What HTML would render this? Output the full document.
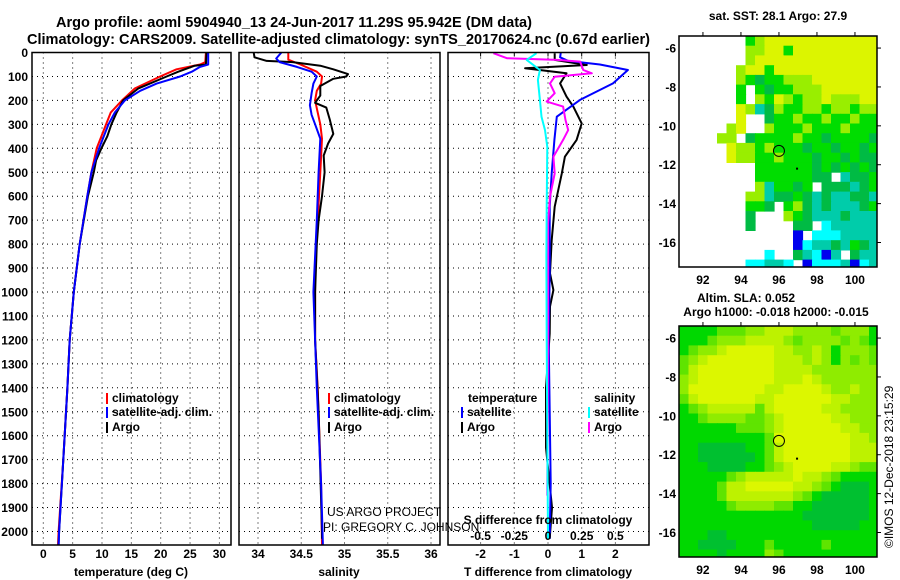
<!DOCTYPE html>
<html><head><meta charset="utf-8">
<style>
html,body{margin:0;padding:0;background:#fff;}
svg{display:block;font-family:"Liberation Sans",sans-serif;}
.t{font-weight:bold;font-size:12px;fill:#000;}
</style></head>
<body>
<svg id="fig" width="900" height="580" viewBox="0 0 900 580" xmlns="http://www.w3.org/2000/svg">
<text x="56" y="27" font-size="15" font-weight="bold" textLength="476" lengthAdjust="spacingAndGlyphs">Argo profile: aoml 5904940_13 24-Jun-2017 11.29S 95.942E (DM data)</text>
<text x="27" y="44" font-size="15" font-weight="bold" textLength="623" lengthAdjust="spacingAndGlyphs">Climatology: CARS2009. Satellite-adjusted climatology: synTS_20170624.nc (0.67d earlier)</text>
<g id="g"></g>
</svg>
<script>
// ---- profile data (depth in m) ----
const tClimD=[0,40,50,70,100,150,200,250,300,400,500,600,800,1000,1200,1400,1700,2000,2056];
const tClimV=[27.7,27.6,26.7,22.7,19.9,15.6,13.4,11.5,10.7,9.1,8.2,7.5,6.2,5.2,4.5,4.1,3.4,2.6,2.5];
const tSatD=[0,50,60,80,100,130,160,200,250,300,400,500,600,800,1000,1200,1400,1700,2000,2056];
const tSatV=[28.1,28.1,26.7,25.3,23.3,19.3,16.5,13.9,12.2,11.1,9.5,8.2,7.5,6.2,5.2,4.5,4.1,3.4,2.7,2.6];
const tArgoD=[0,50,55,80,100,150,200,250,300,350,400,450,500,600,800,1000,1200,1400,1700,2000,2056];
const tArgoV=[27.8,27.7,25.8,23.0,21.0,16.2,13.6,12.5,11.6,10.9,9.9,9.0,8.6,7.6,6.2,5.2,4.5,4.1,3.4,2.7,2.6];
const sClimD=[0,30,50,80,100,130,160,200,250,300,360,500,700,900,1200,1400,1800,2056];
const sClimV=[34.35,34.35,34.49,34.68,34.74,34.73,34.68,34.66,34.69,34.72,34.74,34.72,34.69,34.66,34.66,34.69,34.73,34.74];
const sSatD=[0,25,40,60,80,100,130,170,220,260,300,360,500,700,1000,1200,1400,1800,2056];
const sSatV=[34.27,34.21,34.25,34.45,34.62,34.68,34.64,34.62,34.60,34.62,34.66,34.72,34.70,34.68,34.64,34.66,34.68,34.73,34.75];
const sArgoD=[0,20,35,40,55,70,90,100,110,140,180,210,230,280,340,380,430,500,600,700,800,1000,1200,1500,2000,2030];
const sArgoV=[33.95,33.96,34.1,34.4,34.72,34.87,35.04,35.02,34.87,34.72,34.72,34.66,34.79,34.83,34.87,34.81,34.76,34.77,34.74,34.70,34.68,34.66,34.66,34.70,34.74,34.74];
const dTSatD=[0,20,35,50,73,129,198,268,365,504,644,922,1200,1800,2030];
const dTSatV=[0.38,0.36,0.6,1.54,2.37,1.93,0.95,0.26,0.19,0.11,0.05,0.05,0.02,0.08,0.05];
const dTArgoD=[3,31,52,66,87,129,184,226,296,365,435,505,644,783,922,992,1061,1173,1400,1650,1900,2030];
const dTArgoV=[0.2,0.2,1.15,-0.68,0.55,0.36,0.55,0.75,1.0,0.85,0.5,0.41,0.2,0.11,0.06,0.16,0.06,0.05,-0.06,-0.06,0.12,0.05];
const dSSatD=[3,31,73,115,198,268,324,394,644,853,1200,1600,2030];
const dSSatV=[-0.085,-0.158,-0.06,-0.075,-0.06,-0.048,-0.022,-0.005,-0.01,-0.012,-0.01,-0.005,0];
const dSArgoD=[3,24,31,38,73,87,101,129,170,205,226,282,324,365,435,505,602,713,1200,1850];
const dSArgoV=[-0.405,-0.305,0.065,0.238,0.262,0.325,0.05,0.015,0.05,-0.01,0.112,0.13,0.15,0.112,0.04,0.05,0.015,0,0,-0.005];
const depthTicks=[0,100,200,300,400,500,600,700,800,900,1000,1100,1200,1300,1400,1500,1600,1700,1800,1900,2000];
const tTicks=[0,5,10,15,20,25,30];
const sTicks=[34,34.5,35,35.5,36];
const dTTicks=[-2,-1,0,1,2];
const dSTicks=[-0.5,-0.25,0,0.25,0.5];
const latTicks=[-6,-8,-10,-12,-14,-16];
const lonTicks=[92,94,96,98,100];
// SST map (0.5 deg cells, lon from 90.75, lat from -5.38 down)
const sstRows=[".......GLYYYYYYYYYYYY",".......LLYYGYYYYYYYYY",".......LYYYYYYYYYYYYY","......LYYGYYYYYYYYYYY","......LGDGGLLLYYYYYYY","......G.GDGGLLLYYYYYY","......G.LGYLGLLYLLLYY","......YLTDLGGLLGLLGLL","......Y..DGGLGGLGGLGG",".....LY..LGGGLGGGLGGG","....LL.DGGGGLGGDGGGGD",".....YLLGLGGGDGGDGGDG",".....YLLGGLGGGDGGDGDD","........GGGGGGDGDGDGD","........GGGGGGDD.TDDG","........LTGGDG.DDDTDG",".......LLTDDGDTDTTDDT",".......GGD.GLDTDTTTDG",".......D...LGDTTTDTTT",".......D....DD.CTTTTT","............B.CCCTTTT","............BCTTDTGDT",".........C..DTCBT.DTT",".......CCTTC.BCCCTBCT"];
const slaRows=["GGGGlllLLyyyLLLLlLLLG","GGGlLLLyyyyLlLLLLlLlG","GlLLyYYYYYyyLLyLGLLLl","lLyYYYYYYYyyyLyLGLlLl","lyYYYYYYYYyyyyLLLLLLL","LyYYYYYYYYyyyYyLLLLLL","LYYYYYYYYyyYYYYyLLyLL","lyYYYYYYyyYYYYYYyyLLL","GlLyyyyylyYYYYYyyLLLL","GGlLLLLllLyYYYYYyyLLL","GGGGGGlllLyYYYYYYyyLL","GGGGGGGGGlYYYYYYYYyyL","GGDDDDDGGlyYYYYYYYyyy","GGDDDDDDGlyYYYYYYYyyy","GGGDDDDGGlLyYYYYyyLll","GGGGGlLyyyyyYyyLlGGGG","GGGGlyyYYYYYyyLlGDDDG","GGGGlyyyyyyyLlGDDDDDG","GGGGGlLLLLllGGDDDDDDG","GGGGGGGGGGGGGDDDDDDDG","GGGGGGGGGGGGGGDDDDDGG","GGGDDGGGGGGGGGGGGGGGG","GGDDDDGGGlGGGGGlGGGGG","GGGGDGGGGLlGGGGGGGGGG"];
const argoLon=[96.0];
const argoLat=[-11.29];

const NS='http://www.w3.org/2000/svg';
const G=document.getElementById('g');
function el(tag,attrs,parent){const e=document.createElementNS(NS,tag);for(const k in attrs)e.setAttribute(k,attrs[k]);(parent||G).appendChild(e);return e;}
function txt(s,x,y,anchor,parent,cls){const e=el('text',{x:x,y:y,'text-anchor':anchor||'start',class:cls||'t'},parent);e.textContent=s;return e;}

const TOP=52.5,BOT=545,DPX=0.2395;
const yD=d=>TOP+d*DPX;
const xT=v=>43.3+v*5.87;
const xS=v=>258+(v-34)*86.5;
const xDT=v=>548+v*33.7;
const xDS=v=>548+v*4*33.7;

function panel(name,x0,x1){
  const g=el('g',{});
  
  
  return g;
}
function hgrid(g,x0,x1){
  depthTicks.forEach(d=>{const l=el('line',{x1:x0,x2:x1,y1:yD(d),y2:yD(d),stroke:'#000','stroke-width':1,'stroke-dasharray':'1,4'},g);
  });
}
function vgrid(g,xs){xs.forEach(x=>{const l=el('line',{x1:x,x2:x,y1:TOP,y2:BOT,stroke:'#000','stroke-width':1,'stroke-dasharray':'1,4'},g);
  });}
function frame(g,x0,x1){const r=el('rect',{x:x0,y:TOP,width:x1-x0,height:BOT-TOP,fill:'none',stroke:'#000','stroke-width':1.5},g);
  }
function line(g,D,V,fx,color,name){
  const pts=D.map((d,i)=>fx(V[i]).toFixed(1)+','+yD(d).toFixed(1)).join(' ');
  const p=el('polyline',{points:pts,fill:'none',stroke:color,'stroke-width':2,'stroke-linejoin':'round'},g);
  
  
}
function legend(g,x,y,color,label,name){
  const m=el('rect',{x:x,y:y-9,width:2,height:11,fill:color},g);
  
  const t=txt(label,x+6,y,'start',g);
  
}

// depth labels
const yl=el('g',{});


depthTicks.forEach(d=>{const t=txt(String(d),28,yD(d)+4.5,'end',yl);});

// Temperature panel
let p1=panel('temperature-panel');
hgrid(p1,32,231);vgrid(p1,tTicks.map(xT));
line(p1,tClimD,tClimV,xT,'#ff0000','temp-climatology-line');
line(p1,tArgoD,tArgoV,xT,'#000000','temp-argo-line');
line(p1,tSatD,tSatV,xT,'#0000ff','temp-satellite-line');
frame(p1,32,231);
tTicks.forEach(v=>{const t=txt(String(v),xT(v),558,'middle',p1);});
let at=txt('temperature (deg C)',131,576,'middle',p1);
legend(p1,106,402,'#ff0000','climatology','legend-climatology');
legend(p1,106,416,'#0000ff','satellite-adj. clim.','legend-satellite-adj');
legend(p1,106,431,'#000000','Argo','legend-argo');

// Salinity panel
let p2=panel('salinity-panel');
hgrid(p2,239,440);vgrid(p2,sTicks.map(xS));
line(p2,sClimD,sClimV,xS,'#ff0000','sal-climatology-line');
line(p2,sArgoD,sArgoV,xS,'#000000','sal-argo-line');
line(p2,sSatD,sSatV,xS,'#0000ff','sal-satellite-line');
frame(p2,239,440);
sTicks.forEach(v=>{const t=txt(String(v),xS(v),558,'middle',p2);});
at=txt('salinity',339,576,'middle',p2);
legend(p2,328,402,'#ff0000','climatology','legend-sal-climatology');
legend(p2,328,416,'#0000ff','satellite-adj. clim.','legend-sal-satellite-adj');
legend(p2,328,431,'#000000','Argo','legend-sal-argo');
let c1=txt('US ARGO PROJECT',327,516,'start',p2);c1.setAttribute('font-weight','normal');c1.setAttribute('class','');c1.setAttribute('font-size','12');

let c2=txt('PI: GREGORY C. JOHNSON',323,531,'start',p2);c2.setAttribute('class','');c2.setAttribute('font-size','12');


// Difference panel
let p3=panel('difference-panel');
hgrid(p3,448,649);vgrid(p3,dTTicks.map(xDT));
line(p3,dTArgoD,dTArgoV,xDT,'#000000','dT-argo-line');
line(p3,dTSatD,dTSatV,xDT,'#0000ff','dT-satellite-line');
line(p3,dSArgoD,dSArgoV,xDS,'#ff00ff','dS-argo-line');
line(p3,dSSatD,dSSatV,xDS,'#00ffff','dS-satellite-line');
frame(p3,448,649);
dTTicks.forEach(v=>{const t=txt(String(v),xDT(v),558,'middle',p3);
  const k=el('line',{x1:xDT(v),x2:xDT(v),y1:TOP,y2:TOP+4,stroke:'#000'},p3);});
dSTicks.forEach(v=>{const t=txt(String(v),xDS(v),540,'middle',p3);});
at=txt('T difference from climatology',548,576,'middle',p3);
at=txt('S difference from climatology',548,524,'middle',p3);
let lt=txt('temperature',468,402,'start',p3);
lt=txt('salinity',594,402,'start',p3);
legend(p3,461,416,'#0000ff','satellite','legend-dT-satellite');
legend(p3,461,431,'#000000','Argo','legend-dT-argo');
legend(p3,588,416,'#00ffff','satellite','legend-dS-satellite');
legend(p3,588,431,'#ff00ff','Argo','legend-dS-argo');

// Maps
const MX0=679,MX1=877,LON0=90.74,LON1=101.16,LAT0=-5.38,LAT1=-17.26;
const colSST={Y:'#dcf500',L:'#99ee00',G:'#00dd00',D:'#00bb44',T:'#00ccaa',C:'#00ffff',B:'#0000ee'};
const colSLA={Y:'#dcf700',y:'#bdf200',L:'#8fec00',l:'#5fe400',G:'#00d800',D:'#00c030'};
function map(name,top,bot,rows,cols){
  const g=panel(name);
  const xL=v=>MX0+(v-LON0)/(LON1-LON0)*(MX1-MX0);
  const yL=v=>top+(v-LAT0)/(LAT1-LAT0)*(bot-top);
  const cw=xL(LON0+0.5)-xL(LON0), ch=yL(LAT0-0.5)-yL(LAT0);
  rows.forEach((r,i)=>{for(let j=0;j<r.length;j++){const c=cols[r[j]];if(!c)continue;
    const x=xL(LON0+0.5*j),y=yL(LAT0-0.5*i);
    const w=Math.min(cw+0.6,MX1-x),h=Math.min(ch+0.6,bot-y);
    if(w<=0||h<=0)continue;
    const cell=el('rect',{x:x.toFixed(1),y:y.toFixed(1),width:w.toFixed(1),height:h.toFixed(1),fill:c},g);
    
    }});
  const fr=el('rect',{x:MX0,y:top,width:MX1-MX0,height:bot-top,fill:'none',stroke:'#000','stroke-width':1.5},g);
  
  latTicks.forEach(v=>{const t=txt(String(v),676,yL(v)+4.5,'end',g);
    const k=el('line',{x1:MX1,x2:MX1+4,y1:yL(v),y2:yL(v),stroke:'#000'},g);});
  lonTicks.forEach(v=>{const t=txt(String(v),xL(v),bot+17,'middle',g);
    const k=el('line',{x1:xL(v),x2:xL(v),y1:top-4,y2:top,stroke:'#000'},g);});
  argoLon.forEach((lo,i)=>{const c=el('circle',{cx:xL(lo),cy:yL(argoLat[i]),r:5.5,fill:'none',stroke:'#000','stroke-width':1},g);
    });
  const d1=el('rect',{x:xL(96.9),y:yL(-12.15),width:2,height:2,fill:'#000'},g);
}
map('sst-map',36,267,sstRows,colSST);
map('sla-map',326,557,slaRows,colSLA);
let mt=txt('sat. SST: 28.1 Argo: 27.9',778,20,'middle');
mt=txt('Altim. SLA: 0.052',697,302,'start');
mt=txt('Argo h1000: -0.018 h2000: -0.015',776,316,'middle');
const ts=el('text',{x:0,y:0,transform:'translate(893,548) rotate(-90)','font-size':'12'});
ts.textContent='©IMOS 12-Dec-2018 23:15:29';


</script>
</body></html>
